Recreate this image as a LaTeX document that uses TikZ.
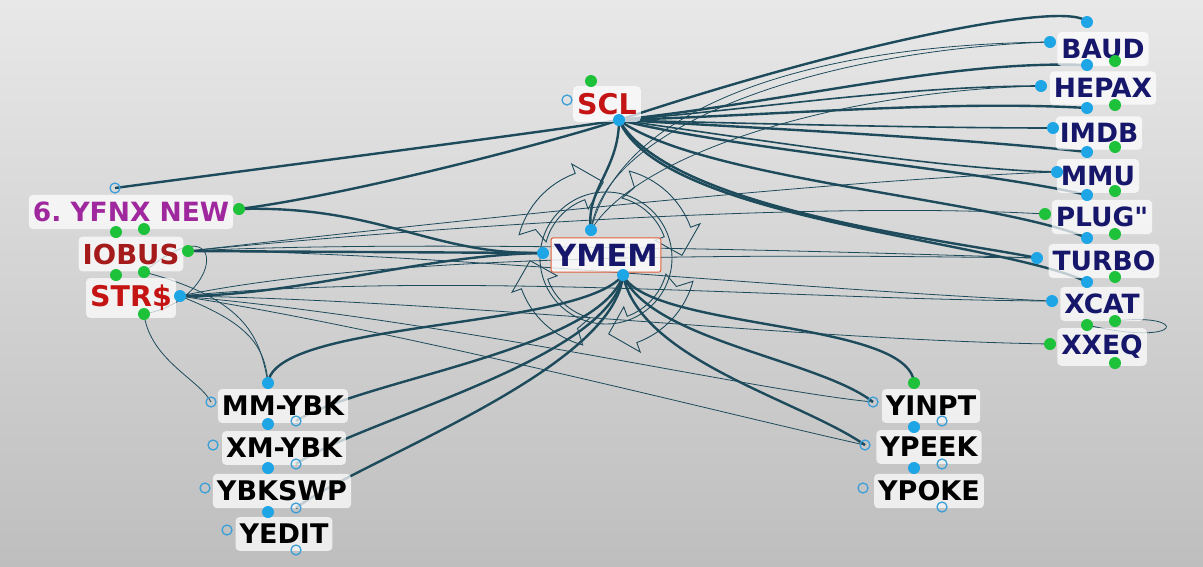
\documentclass[tikz,border=0pt]{standalone}
\usepackage{fontspec}
\setmainfont{DejaVu Sans}[Ligatures=TeXOff]
\usetikzlibrary{calc}
\frenchspacing
\definecolor{edgec}{HTML}{1D4B5C}
\definecolor{bdotc}{HTML}{1EA5E6}
\definecolor{gdotc}{HTML}{1DC23A}
\definecolor{holc}{HTML}{3C9FD8}
\definecolor{navyc}{HTML}{16166A}
\definecolor{redc}{HTML}{C41414}
\definecolor{dredc}{HTML}{A51A1A}
\definecolor{purpc}{HTML}{A0289E}
\definecolor{bgtop}{HTML}{E8E8E8}
\definecolor{bgbot}{HTML}{BEBEBE}
\definecolor{ymemb}{HTML}{E0603C}
\begin{document}
\begin{tikzpicture}[x=1pt,y=-1pt,
  thk/.style={draw=edgec,line width=2.4pt},
  med/.style={draw=edgec,line width=1.6pt},
  thn/.style={draw=edgec,line width=0.8pt},
  deco/.style={draw=edgec,line width=0.9pt},
  lbl/.style={fill=white,fill opacity=0.72,text opacity=1,rounded corners=4pt,inner xsep=4pt,inner ysep=7pt},
  rlab/.style={lbl,text=navyc,font=\fontsize{26.5}{30}\selectfont\bfseries},
  blab/.style={lbl,text=black,font=\fontsize{27}{30}\selectfont\bfseries},
  bd/.style={circle,fill=bdotc,inner sep=0pt,minimum size=12pt},
  gd/.style={circle,fill=gdotc,inner sep=0pt,minimum size=12pt},
  hd/.style={circle,draw=holc,line width=1.3pt,inner sep=0pt,minimum size=10pt}]
\useasboundingbox (0,0) rectangle (1203,566);
\shade[top color=bgtop,bottom color=bgbot] (0,0) rectangle (1203,566);

% ports
\coordinate (sclT) at (591,81); \coordinate (sclL) at (567,100); \coordinate (sclB) at (619,120);
\coordinate (ymT) at (591,230); \coordinate (ymL) at (543,253); \coordinate (ymB) at (623,275);
\coordinate (yfH) at (115,188); \coordinate (yfR) at (239,209); \coordinate (yfB1) at (116,232); \coordinate (yfB2) at (144,229);
\coordinate (ioR) at (188,251); \coordinate (ioB1) at (116,275); \coordinate (ioB2) at (144,272);
\coordinate (stR) at (180,296); \coordinate (stB) at (144,314);
\coordinate (baT) at (1087,22); \coordinate (baL) at (1050,42); \coordinate (baB) at (1087,65); \coordinate (baG) at (1115,61);
\coordinate (heL) at (1041,86); \coordinate (heB) at (1087,108); \coordinate (heG) at (1115,105);
\coordinate (imL) at (1053,128); \coordinate (imB) at (1087,152); \coordinate (imG) at (1115,147);
\coordinate (mmL) at (1057,172); \coordinate (mmB) at (1087,195); \coordinate (mmG) at (1115,191);
\coordinate (plL) at (1045,214); \coordinate (plB) at (1087,238); \coordinate (plG) at (1115,234);
\coordinate (tuL) at (1037,258); \coordinate (tuB) at (1087,282); \coordinate (tuG) at (1115,277);
\coordinate (xcL) at (1052,301); \coordinate (xcB) at (1087,325); \coordinate (xcG) at (1115,321);
\coordinate (xxL) at (1050,344); \coordinate (xxG) at (1115,363);
\coordinate (myT) at (268,383); \coordinate (myH) at (211,402); \coordinate (myB) at (268,424); \coordinate (myR) at (296,421);
\coordinate (xyH) at (213,445); \coordinate (xyB) at (268,468); \coordinate (xyR) at (296,464);
\coordinate (ysH) at (205,488); \coordinate (ysB) at (268,512); \coordinate (ysR) at (296,508);
\coordinate (yeH) at (227,530); \coordinate (yeR) at (296,550);
\coordinate (yiT) at (914,383); \coordinate (yiH) at (873,402); \coordinate (yiB) at (914,427); \coordinate (yiR) at (942,421);
\coordinate (ypH) at (865,445); \coordinate (ypB) at (914,468); \coordinate (ypR) at (942,464);
\coordinate (yoH) at (863,488); \coordinate (yoR) at (942,507);
\coordinate (cen) at (606,258);

% decoration around YMEM
\draw[deco] (cen) circle[radius=66];
\foreach \a/\b in {195/250,285/340,15/70,105/160}{
  \draw[deco] ($(cen)+(\a:90)$) arc[start angle=\a,end angle=\b,radius=90]
    -- ($(cen)+(\b:100)$) -- ($(cen)+(\b+18:76)$) -- ($(cen)+(\b:52)$) -- ($(cen)+(\b:62)$)
    arc[start angle=\b,end angle=\a,radius=62] -- ($(cen)+(\a+7:76)$) -- cycle;
}

% thin connectors
\draw[thn] (ymT) .. controls (620,110) and (800,45) .. (baL);
\draw[thn] (ymT) .. controls (605,125) and (820,50) .. (baL);
\draw[thn] (ymT) .. controls (640,150) and (850,90) .. (heL);
\draw[thn] (ioR) .. controls (400,230) and (800,200) .. (plL);
\draw[thn] (ioR) .. controls (420,225) and (820,180) .. (mmL);
\draw[thn] (ioR) .. controls (400,240) and (800,250) .. (tuL);
\draw[thn] (ioR) .. controls (400,250) and (800,290) .. (xcL);
\draw[thn] (stR) .. controls (400,250) and (800,255) .. (tuL);
\draw[thn] (stR) .. controls (450,270) and (800,300) .. (xcL);
\draw[thn] (stR) .. controls (450,300) and (800,340) .. (xxL);
\draw[thn] (stR) .. controls (450,320) and (750,390) .. (yiH);
\draw[thn] (stR) .. controls (400,330) and (750,420) .. (ypH);
\draw[thn] (ioB2) .. controls (250,300) and (260,340) .. (myT);
\draw[thn] (stR) .. controls (240,320) and (265,340) .. (myT);
\draw[thn] (stB) .. controls (150,360) and (200,380) .. (myH);
\draw[thn] (ioB2) .. controls (230,200) and (225,300) .. (stB);
\draw[thn] (xcG) .. controls (1190,312) and (1185,348) .. (xcB);

% thick connectors
\draw[thk] (sclB) .. controls (860,40) and (1070,0) .. (baT);
\draw[thk] (sclB) .. controls (800,100) and (950,60) .. (baB);
\draw[med] (sclB) .. controls (750,110) and (900,86) .. (heL);
\draw[thk] (sclB) .. controls (780,115) and (950,100) .. (heB);
\draw[med] (sclB) .. controls (800,125) and (950,128) .. (imL);
\draw[thk] (sclB) .. controls (800,130) and (980,140) .. (imB);
\draw[med] (sclB) .. controls (760,140) and (950,170) .. (mmL);
\draw[thk] (sclB) .. controls (740,150) and (980,170) .. (mmB);
\draw[thk] (sclB) .. controls (700,180) and (1000,200) .. (plB);
\draw[thk] (sclB) .. controls (670,210) and (950,240) .. (tuL);
\draw[thk] (sclB) .. controls (660,220) and (1000,240) .. (tuB);
\draw[thk] (sclB) .. controls (619,170) and (585,190) .. (ymT);
\draw[thk] (sclB) .. controls (560,140) and (350,195) .. (yfR);
\draw[thk] (sclB) .. controls (560,130) and (250,170) .. (yfH);
\draw[thk] (ymL) -- (ioR);
\draw[thk] (ymL) .. controls (420,255) and (300,296) .. (stR);
\draw[thk] (yfR) .. controls (380,205) and (430,255) .. (ymL);
\draw[thk] (ymB) .. controls (580,330) and (275,320) .. (myT);
\draw[thk] (ymB) .. controls (600,350) and (360,380) .. (myR);
\draw[thk] (ymB) .. controls (610,360) and (360,420) .. (xyR);
\draw[thk] (ymB) .. controls (615,370) and (360,460) .. (ysR);
\draw[thk] (ymB) .. controls (650,330) and (910,320) .. (yiT);
\draw[thk] (ymB) .. controls (650,340) and (820,360) .. (yiH);
\draw[thk] (ymB) .. controls (640,360) and (800,400) .. (ypH);

% labels
\node[lbl,text=redc,font=\fontsize{28.5}{30}\selectfont\bfseries] (scl) at (607,104) {SCL};
\node[lbl,fill opacity=0.8,text=navyc,draw=ymemb,draw opacity=1,line width=1pt,rounded corners=2pt,inner xsep=3pt,inner ysep=6pt,font=\fontsize{30.5}{32}\selectfont\bfseries] (ymem) at (606,255) {YMEM};
\node[lbl,text=purpc,font=\fontsize{26.5}{30}\selectfont\bfseries] (yfnx) at (131,212) {6. YFNX NEW};
\node[lbl,text=dredc,font=\fontsize{27.5}{30}\selectfont\bfseries] (iobus) at (131,254) {IOBUS};
\node[lbl,text=redc,font=\fontsize{28.5}{30}\selectfont\bfseries] (strs) at (131,298) {STR\$};
\node[rlab] (baud) at (1103,49) {BAUD};
\node[rlab] (hepax) at (1103,88) {HEPAX};
\node[rlab] (imdb) at (1099,133) {IMDB};
\node[rlab] (mmu) at (1098,176) {MMU};
\node[rlab] (plug) at (1102,217) {PLUG"};
\node[rlab] (turbo) at (1104,261) {TURBO};
\node[rlab] (xcat) at (1102,304) {XCAT};
\node[rlab] (xxeq) at (1102,347) {XXEQ};
\node[blab] (mmybk) at (283,406) {MM-YBK};
\node[blab] (xmybk) at (284,448) {XM-YBK};
\node[blab] (ybkswp) at (282,491) {YBKSWP};
\node[blab] (yedit) at (284,534) {YEDIT};
\node[blab] (yinpt) at (931,406) {YINPT};
\node[blab] (ypeek) at (929,447) {YPEEK};
\node[blab] (ypoke) at (929,491) {YPOKE};

% port dots
\foreach \p in {sclB,ymT,ymL,ymB,stR,baT,baL,baB,heL,heB,imL,imB,mmL,mmB,plB,tuL,tuB,xcL,myT,myB,xyB,ysB,yiB,ypB}
  \node[bd] at (\p) {};
\foreach \p in {sclT,yfR,yfB1,yfB2,ioR,ioB1,ioB2,stB,baG,heG,imG,mmG,plL,plG,tuG,xcB,xcG,xxL,xxG,yiT}
  \node[gd] at (\p) {};
\foreach \p in {sclL,yfH,myH,myR,xyH,xyR,ysH,ysR,yeH,yeR,yiH,yiR,ypH,ypR,yoH,yoR}
  \node[hd] at (\p) {};
\end{tikzpicture}
\end{document}
